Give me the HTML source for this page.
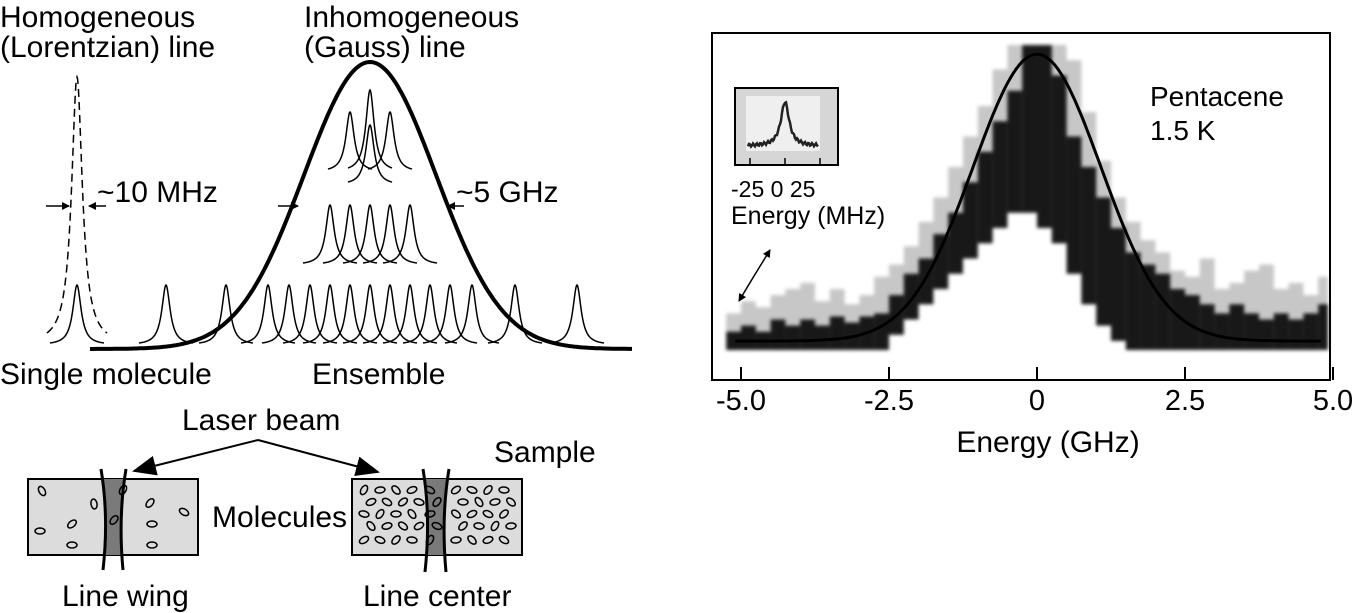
<!DOCTYPE html>
<html><head><meta charset="utf-8"><style>
html,body{margin:0;padding:0;background:#fff;}
svg{display:block;font-family:"Liberation Sans",Arial,sans-serif;}
</style></head><body>
<svg id="fig" width="1358" height="613" viewBox="0 0 1358 613">
<defs>
<filter id="blur" x="-5%" y="-5%" width="110%" height="110%"><feGaussianBlur stdDeviation="1.8"/></filter>
<marker id="ah" markerWidth="8" markerHeight="8" refX="7" refY="4" orient="auto" markerUnits="userSpaceOnUse"><path d="M0,0 L8,4 L0,8 z" fill="#000"/></marker>
<marker id="ahBig" markerWidth="24" markerHeight="20" refX="22" refY="10" orient="auto" markerUnits="userSpaceOnUse"><path d="M0,0 L24,10 L0,20 z" fill="#000"/></marker>
</defs>
<g id="left" font-size="30">
<text x="0" y="27">Homogeneous</text>
<text x="0" y="57">(Lorentzian) line</text>
<text x="304" y="27">Inhomogeneous</text>
<text x="304" y="57">(Gauss) line</text>
<text x="97" y="202">~10 MHz</text>
<text x="456" y="202">~5 GHz</text>
<text x="0" y="384">Single molecule</text>
<text x="312" y="384">Ensemble</text>
<line x1="46" y1="206" x2="69" y2="206" stroke="#000" stroke-width="1.5" marker-end="url(#ah)"/>
<line x1="106" y1="206" x2="89" y2="206" stroke="#000" stroke-width="1.5" marker-end="url(#ah)"/>
<line x1="278" y1="206" x2="298" y2="206" stroke="#000" stroke-width="1.5" marker-end="url(#ah)"/>
<line x1="464" y1="206" x2="448" y2="206" stroke="#000" stroke-width="1.5" marker-end="url(#ah)"/>
<g id="peaks"></g>
<!-- bottom schematic -->
<text x="182" y="430">Laser beam</text>
<line x1="258" y1="440" x2="134" y2="471" stroke="#000" stroke-width="2" marker-end="url(#ahBig)"/>
<line x1="258" y1="440" x2="378" y2="472" stroke="#000" stroke-width="2" marker-end="url(#ahBig)"/>
<text x="494" y="462">Sample</text>
<text x="212" y="527">Molecules</text>
<text x="62" y="606">Line wing</text>
<text x="363" y="606">Line center</text>
<g>
<rect x="28" y="479" width="170" height="76" fill="#dcdcdc" stroke="#000" stroke-width="2"/>
<path d="M104,479 Q107,517 105,555 L123,555 Q121,517 125,479 z" fill="#7a7a7a"/>
<path d="M101,469 Q109,517 103,570" fill="none" stroke="#000" stroke-width="3"/>
<path d="M126,469 Q118,517 123,570" fill="none" stroke="#000" stroke-width="3"/>
<g id="molsWing" fill="none" stroke="#000" stroke-width="1.5"></g>
</g>
<g>
<rect x="352" y="479" width="170" height="76" fill="#dcdcdc" stroke="#000" stroke-width="2"/>
<path d="M425,479 Q428,517 426,555 L444,555 Q442,517 446,479 z" fill="#7a7a7a"/>
<path d="M423,469 Q431,517 425,572" fill="none" stroke="#000" stroke-width="3"/>
<path d="M449,469 Q441,517 446,572" fill="none" stroke="#000" stroke-width="3"/>
<g id="molsCenter" fill="none" stroke="#000" stroke-width="1.5"></g>
</g>
</g>
<g id="right">
<g id="dataBars" filter="url(#blur)"></g>
<rect x="712" y="33" width="618" height="347" fill="none" stroke="#000" stroke-width="2"/>
<g id="ticks" font-size="29"></g>
<path id="fit" fill="none" stroke="#000" stroke-width="3"/>
<text x="1048" y="452" font-size="30" text-anchor="middle">Energy (GHz)</text>
<text x="1150" y="106" font-size="28">Pentacene</text>
<text x="1150" y="140" font-size="28">1.5 K</text>
<g>
<rect x="735" y="88" width="103" height="77" fill="#d6d6d6" stroke="#000" stroke-width="2"/>
<rect x="746" y="96" width="74" height="55" fill="#efefef"/>
<path id="insetTrace" fill="none" stroke="#222" stroke-width="2.5"/>
<line x1="750" y1="158" x2="750" y2="165" stroke="#000" stroke-width="1.5"/>
<line x1="785" y1="158" x2="785" y2="165" stroke="#000" stroke-width="1.5"/>
<line x1="820" y1="158" x2="820" y2="165" stroke="#000" stroke-width="1.5"/>
<text x="731" y="197" font-size="23">-25 0 25</text>
<text x="731" y="224" font-size="25">Energy (MHz)</text>
</g>
<line x1="754" y1="276" x2="739" y2="301" stroke="#000" stroke-width="1.5" marker-end="url(#ah)"/>
<line x1="754" y1="276" x2="770" y2="250" stroke="#000" stroke-width="1.5" marker-end="url(#ah)"/>
</g>
</svg>
<script>
// ---- spectrum data (fractions of full scale) ----
const binStart = -5.25, binStep = 0.25;
const darkHi = [0.06,0.08,0.06,0.10,0.08,0.10,0.08,0.11,0.09,0.11,0.12,0.18,0.25,0.30,0.38,0.45,0.55,0.65,0.75,0.85,1.00,1.00,0.90,0.70,0.60,0.50,0.40,0.32,0.28,0.25,0.20,0.18,0.15,0.12,0.15,0.12,0.10,0.12,0.10,0.12,0.15];
const darkLo = [0,0,0,0,0,0,0,0,0,0,0,0.05,0.10,0.15,0.20,0.25,0.30,0.35,0.40,0.45,0.45,0.40,0.35,0.25,0.15,0.08,0.03,0,0,0,0,0,0,0,0,0,0,0,0,0,0];
const haloHi = [0.12,0.16,0.14,0.18,0.20,0.22,0.16,0.20,0.15,0.18,0.24,0.28,0.34,0.42,0.50,0.60,0.70,0.80,0.92,1.00,1.00,1.00,1.00,0.95,0.78,0.62,0.50,0.42,0.36,0.32,0.26,0.24,0.30,0.20,0.22,0.26,0.28,0.20,0.22,0.18,0.24];
const fitPeak = 1.0, fitSigma = 1.08, fitBase = 0.03;
const tickValues = [-5.0,-2.5,0,2.5,5.0];
const tickLabels = ["-5.0","-2.5","0","2.5","5.0"];
// ---- schematic peak positions ----
const ensemblePeaks = [166,226,268,289,310,330,350,370,390,410,430,450,472,515,577];
const midPeaks = [330,350,370,390,410];
const topPeaks = [350,390];

const NS = "http://www.w3.org/2000/svg";
const X0 = 1037, PXG = 59.2, YB = 350, YT = 45;
const xs = v => X0 + v*PXG;
const ys = f => YB - f*(YB-YT);

const bars = document.getElementById('dataBars');
function addRect(x0, x1, y0, y1, fill, op, name){
  const r = document.createElementNS(NS,'rect');
  r.setAttribute('x', x0); r.setAttribute('width', x1-x0);
  r.setAttribute('y', y1); r.setAttribute('height', Math.max(0,y0-y1));
  r.setAttribute('fill', fill); r.setAttribute('opacity', op);
  
  
  bars.appendChild(r);
}
for(let i=0;i<darkHi.length;i++){
  const e = binStart + i*binStep;
  const x0 = xs(e), x1 = xs(e+binStep);
  if (x0 < 714) continue;
  addRect(x0,Math.min(x1,1328),ys(darkLo[i]),ys(haloHi[i]),'#000',0.22,'halo-bin');
  addRect(x0,Math.min(x1,1328),ys(darkLo[i]),ys(darkHi[i]),'#000',0.88,'dark-bin');
}
// fit
let d='';
for(let e=-5.1;e<=0.0001+4.8;e+=0.05){
  const f = fitBase + (fitPeak-fitBase)*Math.exp(-e*e/(2*fitSigma*fitSigma));
  d += (d?'L':'M') + xs(e).toFixed(1)+','+ys(f*0.97+0.0).toFixed(1);
}
document.getElementById('fit').setAttribute('d', d);
// ticks
const tg = document.getElementById('ticks');
tickValues.forEach((v,i)=>{
  const l = document.createElementNS(NS,'line');
  l.setAttribute('x1',xs(v)); l.setAttribute('x2',xs(v));
  l.setAttribute('y1',367); l.setAttribute('y2',380);
  l.setAttribute('stroke','#000'); l.setAttribute('stroke-width','2');
  
  
  tg.appendChild(l);
  const t = document.createElementNS(NS,'text');
  t.setAttribute('x',xs(v)); t.setAttribute('y',410);
  t.setAttribute('text-anchor','middle');
  t.textContent = tickLabels[i];
  
  
  tg.appendChild(t);
});
// inset trace
let di='';
for(let x=748;x<=818;x+=1){
  const u=(x-785)/5;
  const y=146-44/(1+u*u)+Math.sin(x*1.7)*1.5;
  di+=(di?'L':'M')+x+','+y.toFixed(1);
}
document.getElementById('insetTrace').setAttribute('d',di);
// schematic
const pg = document.getElementById('peaks');
function addPath(dd, attrs, name){
  const p=document.createElementNS(NS,'path');
  p.setAttribute('d',dd);
  for(const k in attrs) p.setAttribute(k,attrs[k]);
  
  
  pg.appendChild(p);
}
function lor(x0, base, h, g, half){
  let s='';
  for(let x=x0-half;x<=x0+half;x+=0.5){
    const u=(x-x0)/g;
    s+=(s?'L':'M')+x.toFixed(1)+','+(base-h/(1+u*u)).toFixed(1);
  }
  return s;
}
addPath(lor(77,345,268,6.5,30),{fill:'none',stroke:'#000','stroke-width':1.5,'stroke-dasharray':'8,5'},'homogeneous-line');
addPath(lor(77,345,60,5,27),{fill:'none',stroke:'#000','stroke-width':1.5},'single-molecule-peak');
ensemblePeaks.forEach(x=>addPath(lor(x,345,60,5,27),{fill:'none',stroke:'#000','stroke-width':1.5},'ensemble-peak'));
midPeaks.forEach(x=>addPath(lor(x,265,60,5,27),{fill:'none',stroke:'#000','stroke-width':1.5},'mid-peak'));
topPeaks.forEach(x=>addPath(lor(x,172,60,5,22),{fill:'none',stroke:'#000','stroke-width':1.5},'top-peak'));
addPath(lor(370,172,82,5,22),{fill:'none',stroke:'#000','stroke-width':1.5},'top-peak-center');
addPath(lor(370,185,60,5,22),{fill:'none',stroke:'#000','stroke-width':1.5},'top-peak-center-low');
let dg='';
for(let x=90;x<=632;x+=2){
  const u=(x-370)/66;
  dg+=(dg?'L':'M')+x+','+(349-287*Math.exp(-u*u/2)).toFixed(1);
}
addPath(dg,{fill:'none',stroke:'#000','stroke-width':4},'gaussian-envelope');
// molecules
function mol(gid, pts){
  const g=document.getElementById(gid);
  pts.forEach(p=>{
    const e=document.createElementNS(NS,'ellipse');
    e.setAttribute('cx',p[0]);e.setAttribute('cy',p[1]);
    e.setAttribute('rx',5);e.setAttribute('ry',3);
    e.setAttribute('transform','rotate('+p[2]+' '+p[0]+' '+p[1]+')');
    
    
    g.appendChild(e);
  });
}
mol('molsWing',[[42,491,60],[94,504,80],[150,503,-50],[184,512,30],[40,531,0],[72,524,-40],[152,524,0],[72,545,0],[152,545,0],[123,490,-60],[114,520,-50]]);
const cpts=[];
const cxs=[364,380,396,412,430,456,472,488,504],cys=[490,502,514,526,540];
for(let r=0;r<cys.length;r++){for(let c=0;c<cxs.length;c++){const x=cxs[c]+(r%2)*7;if(x<516)cpts.push([x,cys[r],(r*37+c*53)%120-60]);}}
mol('molsCenter',cpts);
</script>
</body></html>
